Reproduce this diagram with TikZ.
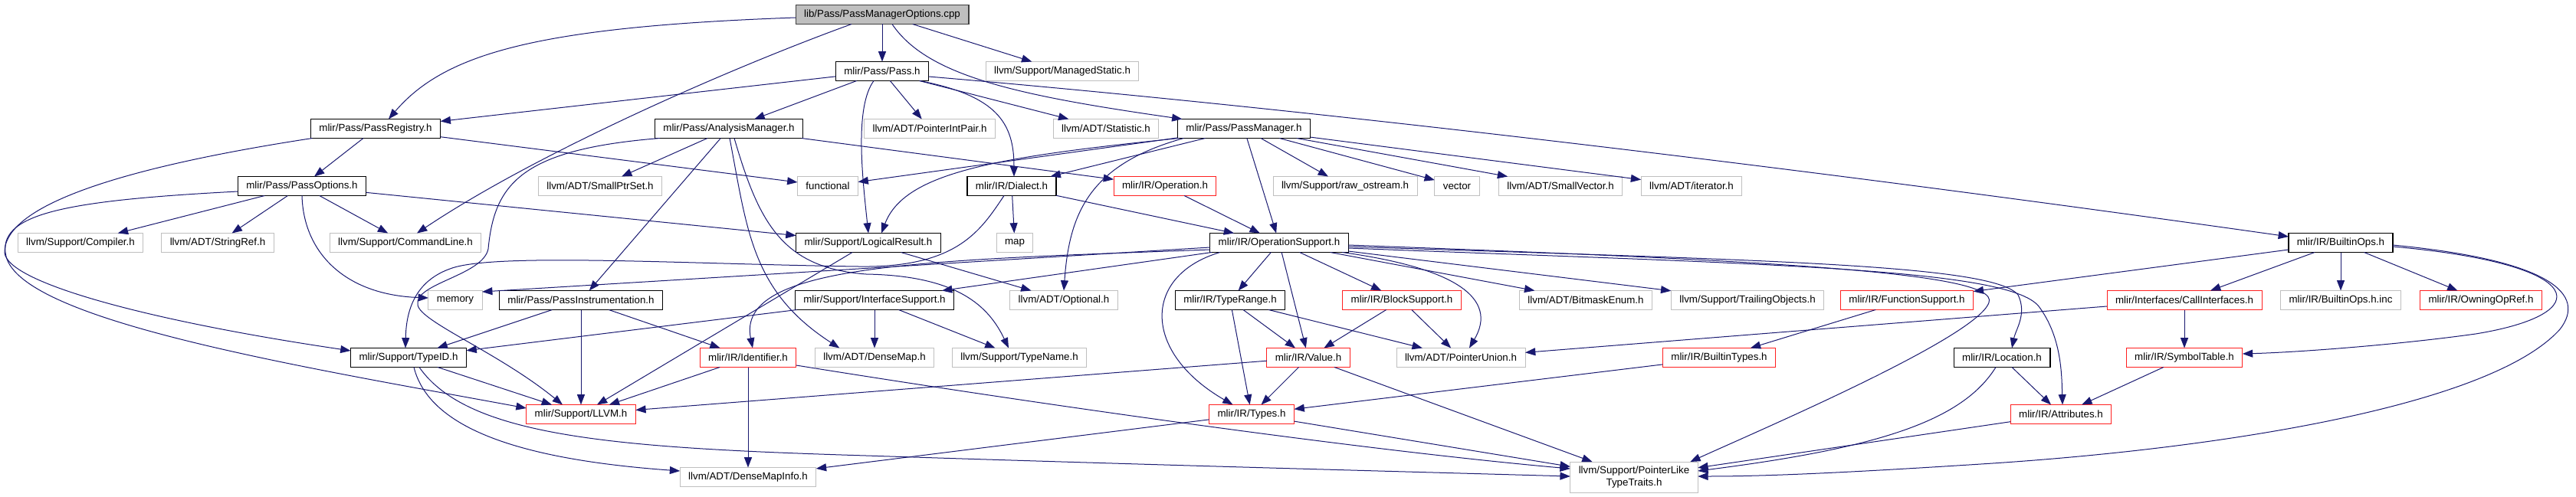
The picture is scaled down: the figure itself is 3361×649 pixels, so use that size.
\documentclass[tikz,border=0pt]{standalone}
\usepackage{fontspec}
\setmainfont{Liberation Sans}
\usetikzlibrary{arrows.meta,calc}
\definecolor{edgeblue}{HTML}{191970}
\definecolor{sysgray}{HTML}{BFBFBF}
\definecolor{rootline}{HTML}{404040}
\definecolor{truncred}{HTML}{FF2020}

\begin{document}
\begin{tikzpicture}[
    x=0.75pt, y=-0.75pt,
    every node/.style={draw, rectangle, font=\fontsize{10}{11.5}\selectfont, inner xsep=8.25pt, inner ysep=0pt, minimum height=18.75pt, outer sep=0pt, line width=0.75pt},
    hdr/.style={draw=black, line width=0.9pt},
    sys/.style={draw=sysgray},
    trunc/.style={draw=truncred},
    mainfile/.style={draw=rootline, fill=sysgray, line width=0.9pt},
    dep/.style={draw=edgeblue, line width=0.75pt, -{Triangle[length=10pt,width=7.5pt]}}
]
\useasboundingbox (0,0) rectangle (3361,649);

\node[mainfile] (root) at (1151,19) {lib/Pass/PassManagerOptions.cpp};

\node[hdr] (pass) at (1151,93) {mlir/Pass/Pass.h};
\node[sys] (mstatic) at (1386,93) {llvm/Support/ManagedStatic.h};

\node[hdr] (preg) at (490,168) {mlir/Pass/PassRegistry.h};
\node[hdr] (anam) at (951,168) {mlir/Pass/AnalysisManager.h};
\node[sys] (pip) at (1213,168) {llvm/ADT/PointerIntPair.h};
\node[sys] (stat) at (1443,168) {llvm/ADT/Statistic.h};
\node[hdr] (pman) at (1623,168) {mlir/Pass/PassManager.h};

\node[hdr] (popt) at (394,243) {mlir/Pass/PassOptions.h};
\node[sys] (sptr) at (783,243) {llvm/ADT/SmallPtrSet.h};
\node[sys] (func) at (1080,243) {functional};
\node[hdr] (dial) at (1320,243) {mlir/IR/Dialect.h};
\node[trunc] (oper) at (1520,243) {mlir/IR/Operation.h};
\node[sys] (rawos) at (1755,243) {llvm/Support/raw\_ostream.h};
\node[sys] (vect) at (1901,243) {vector};
\node[sys] (svec) at (2036,243) {llvm/ADT/SmallVector.h};
\node[sys] (iter) at (2207,243) {llvm/ADT/iterator.h};

\node[sys] (comp) at (105,317) {llvm/Support/Compiler.h};
\node[sys] (sref) at (284,317) {llvm/ADT/StringRef.h};
\node[sys] (cmdl) at (529,317) {llvm/Support/CommandLine.h};
\node[hdr] (lres) at (1133,317) {mlir/Support/LogicalResult.h};
\node[sys] (mapn) at (1324,317) {map};
\node[hdr] (opsup) at (1669,317) {mlir/IR/OperationSupport.h};
\node[hdr] (bops) at (3054,317) {mlir/IR/BuiltinOps.h};

\node[sys] (mem) at (594,392) {memory};
\node[hdr] (pinst) at (758,392) {mlir/Pass/PassInstrumentation.h};
\node[hdr] (ifsup) at (1141,392) {mlir/Support/InterfaceSupport.h};
\node[sys] (opt) at (1388,392) {llvm/ADT/Optional.h};
\node[hdr] (trange) at (1605,392) {mlir/IR/TypeRange.h};
\node[trunc] (bsup) at (1829,392) {mlir/IR/BlockSupport.h};
\node[sys] (bmask) at (2069,392) {llvm/ADT/BitmaskEnum.h};
\node[sys] (trail) at (2280,392) {llvm/Support/TrailingObjects.h};
\node[trunc] (fsup) at (2488,392) {mlir/IR/FunctionSupport.h};
\node[trunc] (calli) at (2850,392) {mlir/Interfaces/CallInterfaces.h};
\node[sys] (bopsinc) at (3054,392) {mlir/IR/BuiltinOps.h.inc};
\node[trunc] (owning) at (3237,392) {mlir/IR/OwningOpRef.h};

\node[hdr] (tid) at (533,467) {mlir/Support/TypeID.h};
\node[trunc] (ident) at (976,467) {mlir/IR/Identifier.h};
\node[sys] (dmap) at (1141,467) {llvm/ADT/DenseMap.h};
\node[sys] (tname) at (1330,467) {llvm/Support/TypeName.h};
\node[trunc] (val) at (1707,467) {mlir/IR/Value.h};
\node[sys] (punion) at (1906,467) {llvm/ADT/PointerUnion.h};
\node[trunc] (btypes) at (2243,467) {mlir/IR/BuiltinTypes.h};
\node[hdr] (loc) at (2612,467) {mlir/IR/Location.h};
\node[trunc] (symt) at (2850,467) {mlir/IR/SymbolTable.h};

\node[trunc] (llvm) at (758,541) {mlir/Support/LLVM.h};
\node[trunc] (types) at (1633,541) {mlir/IR/Types.h};
\node[trunc] (attr) at (2689,541) {mlir/IR/Attributes.h};

\node[sys] (dmi) at (976,623) {llvm/ADT/DenseMapInfo.h};
\node[sys, align=center, minimum height=30pt] (plt) at (2132,623) {llvm/Support/PointerLike\\TypeTraits.h};

\draw[dep] (root) -- (pass);
\draw[dep] (root) -- (mstatic);
\draw[dep] ($(root.west)+(0,4)$) .. controls (700,35) and (580,70) .. ($(preg.north)+(17,0)$);
\draw[dep] ($(root.south)+(-40,0)$) .. controls (950,90) and (700,200) .. ($(cmdl.north)+(15,0)$);
\draw[dep] ($(root.south)+(13,0)$) .. controls (1210,100) and (1330,125) .. ($(pman.north west)+(6,0)$);

\draw[dep] (pass) -- (preg);
\draw[dep] (pass) -- (anam);
\draw[dep] (pass) -- (pip);
\draw[dep] (pass) -- (stat);
\draw[dep] ($(pass.south)+(-11,0)$) .. controls (1115,140) and (1125,230) .. (lres.north);
\draw[dep] ($(pass.south)+(49,0)$) .. controls (1300,125) and (1323,160) .. ($(dial.north)+(3,0)$);
\draw[dep] ($(pass.east)+(0,7)$) .. controls (1800,150) and (2500,240) .. ($(bops.west)+(0,-8)$);

\draw[dep] (preg) -- (func);
\draw[dep] (preg) -- (popt);
\draw[dep] ($(preg.south west)+(2,0)$) .. controls (150,220) and (5,270) .. (6,330)
    .. controls (10,370) and (200,420) .. ($(tid.west)+(0,-9)$);

\draw[dep] (popt) -- (comp);
\draw[dep] (popt) -- (sref);
\draw[dep] (popt) -- (cmdl);
\draw[dep] (popt) -- (lres);
\draw[dep] (popt.south) .. controls (396,330) and (450,385) .. ($(mem.west)+(0,-3)$);
\draw[dep] ($(popt.west)+(0,7)$) .. controls (80,262) and (-5,280) .. (8,335)
    .. controls (30,420) and (400,480) .. ($(llvm.west)+(0,-8)$);

\draw[dep] (anam) -- (sptr);
\draw[dep] (anam) -- (oper);
\draw[dep] (anam) -- (pinst);
\draw[dep] ($(anam.south)+(1,0)$) .. controls (975,300) and (980,380) .. ($(dmap.north west)+(32,0)$);
\draw[dep] ($(anam.south)+(7,0)$) .. controls (990,290) and (1020,350) .. (1130,358)
    .. controls (1250,360) and (1290,400) .. ($(tname.north)+(-14,0)$);
\draw[dep] ($(anam.south)+(-90,0)$) .. controls (680,195) and (645,240) .. (637,325)
    .. controls (630,360) and (540,370) .. (545,398)
    .. controls (548,420) and (650,460) .. ($(llvm.north)+(-24,0)$);

\draw[dep] (pman) -- (func);
\draw[dep] (pman) -- (dial);
\draw[dep] (pman) -- (opsup);
\draw[dep] (pman) -- (rawos);
\draw[dep] (pman) -- (vect);
\draw[dep] (pman) -- (svec);
\draw[dep] (pman) -- (iter);
\draw[dep] ($(pman.south west)+(2,0)$) .. controls (1300,205) and (1180,225) .. ($(lres.north)+(17,0)$);
\draw[dep] ($(pman.south west)+(8,0)$) .. controls (1420,215) and (1395,280) .. (opt.north);

\draw[dep] (dial) -- (mapn);
\draw[dep] (dial) -- (opsup);
\draw[dep] ($(dial.south)+(-10,0)$) .. controls (1280,300) and (1250,350) .. (1120,348)
    .. controls (900,345) and (650,330) .. (590,350)
    .. controls (545,365) and (530,400) .. ($(tid.north)+(-4,0)$);

\draw[dep] (oper) -- (opsup);

\draw[dep] (lres) -- (opt);
\draw[dep] (lres) -- (llvm);

\draw[dep] ($(opsup.west)+(0,6)$) -- ($(mem.east)+(0,-11)$);
\draw[dep] (opsup) -- (ifsup);
\draw[dep] (opsup) -- (trange);
\draw[dep] (opsup) -- (val);
\draw[dep] (opsup) -- (bsup);
\draw[dep] (opsup) -- (bmask);
\draw[dep] (opsup) -- (trail);
\draw[dep] ($(opsup.west)+(0,9)$) .. controls (1200,340) and (960,345) .. ($(ident.north)+(6,0)$);
\draw[dep] ($(opsup.south west)+(13,0)$) .. controls (1490,360) and (1490,460) .. ($(types.north west)+(31,0)$);
\draw[dep] ($(opsup.south east)+(-8,0)$) .. controls (1900,350) and (1955,390) .. ($(punion.north)+(11,0)$);
\draw[dep] ($(opsup.east)+(0,3)$) .. controls (2300,340) and (2610,355) .. (2595,395)
    .. controls (2580,440) and (2300,560) .. ($(plt.north east)+(-10,0)$);
\draw[dep] ($(opsup.east)+(0,5)$) .. controls (2300,340) and (2600,345) .. (2633,385)
    .. controls (2645,410) and (2630,430) .. ($(loc.north)+(13,0)$);
\draw[dep] ($(opsup.east)+(0,7)$) .. controls (2300,345) and (2620,350) .. (2660,400)
    .. controls (2690,440) and (2690,490) .. ($(attr.north)+(2,0)$);

\draw[dep] (trange) -- (types);
\draw[dep] (trange) -- (val);
\draw[dep] (trange) -- (punion);

\draw[dep] (bsup) -- (val);
\draw[dep] (bsup) -- (punion);

\draw[dep] (val) -- (types);
\draw[dep] (val) -- (llvm);
\draw[dep] (val) -- (plt);

\draw[dep] (types) -- (dmi);
\draw[dep] (types) -- (plt);

\draw[dep] (ident) -- (llvm);
\draw[dep] (ident) -- (dmi);
\draw[dep] ($(ident.east)+(0,10)$) .. controls (1400,535) and (1800,590) .. ($(plt.west)+(0,-11)$);

\draw[dep] (tid) -- (llvm);
\draw[dep] ($(tid.south)+(7,0)$) .. controls (560,560) and (680,600) .. ($(dmi.west)+(0,-8)$);
\draw[dep] ($(tid.south)+(14,0)$) .. controls (610,570) and (800,585) .. (1130,595)
    .. controls (1500,607) and (1800,615) .. ($(plt.west)+(0,-1)$);

\draw[dep] (pinst) -- (tid);
\draw[dep] (pinst) -- (llvm);
\draw[dep] (pinst) -- (ident);

\draw[dep] (ifsup) -- (tid);
\draw[dep] (ifsup) -- (dmap);
\draw[dep] (ifsup) -- (tname);

\draw[dep] (btypes) -- (types);
\draw[dep] (fsup) -- (btypes);

\draw[dep] (loc) -- (attr);
\draw[dep] ($(loc.south)+(-8,0)$) .. controls (2560,550) and (2450,585) .. ($(plt.east)+(0,-8)$);

\draw[dep] (attr) -- (plt);
\draw[dep] (symt) -- (attr);

\draw[dep] (calli) -- (symt);
\draw[dep] (calli) -- (punion);

\draw[dep] (bops) -- (fsup);
\draw[dep] (bops) -- (calli);
\draw[dep] (bops) -- (bopsinc);
\draw[dep] (bops) -- (owning);
\draw[dep] ($(bops.east)+(0,5)$) .. controls (3380,345) and (3390,410) .. (3230,436)
    .. controls (3130,450) and (3000,460) .. ($(symt.east)+(0,-5)$);
\draw[dep] ($(bops.east)+(0,3)$) .. controls (3330,340) and (3375,385) .. (3340,430)
    .. controls (3250,530) and (2900,585) .. (2600,605)
    .. controls (2400,618) and (2300,622) .. ($(plt.east)+(0,-1)$);

\end{tikzpicture}
\end{document}
